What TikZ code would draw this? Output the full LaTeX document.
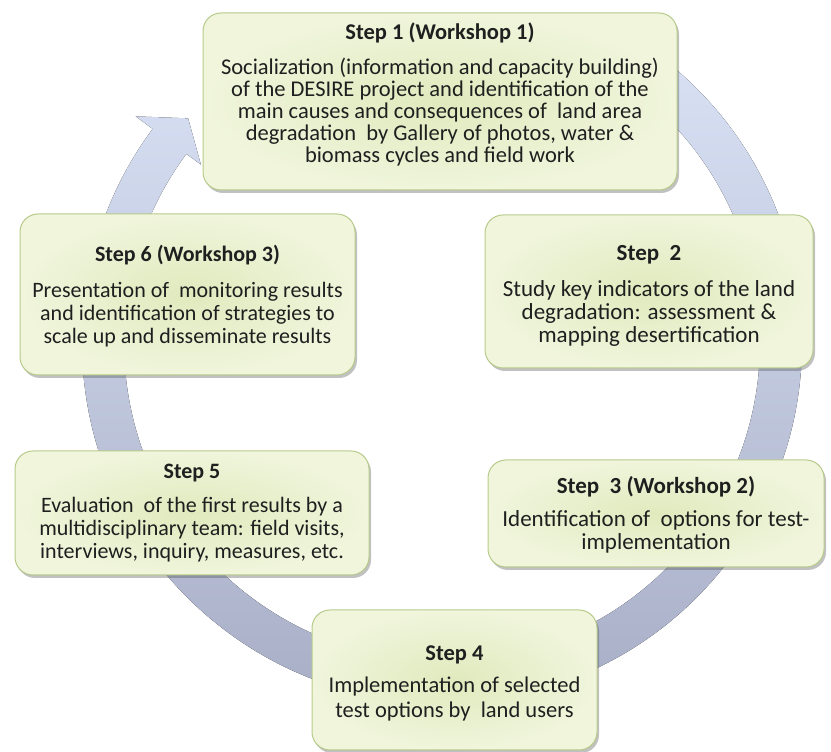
\documentclass[tikz,border=0pt]{standalone}
\usepackage{fontspec}
\setmainfont{Carlito}
\usetikzlibrary{positioning, shadows}

\definecolor{boxfill}{HTML}{E0EABD}
\definecolor{boxglow}{HTML}{F0F5DC}
\definecolor{boxedge}{HTML}{B7CA8A}
\definecolor{ringtop}{HTML}{D8E0F4}
\definecolor{ringbottom}{HTML}{A4ABC3}

\tikzset{
    stepbox/.style={draw=boxedge, line width=1pt, rounded corners=18pt,
        inner color=boxfill, outer color=boxglow,
        drop shadow={shadow xshift=2pt, shadow yshift=-3pt, opacity=0.35, fill=black!70}},
    steptext/.style={align=center, text=black!88, font=\fontsize{23}{23}\selectfont},
}

\begin{document}
\begin{tikzpicture}[x=1pt, y=1pt]
    \useasboundingbox (0,0) rectangle (831,752);
    % Cycle arrow
    \fill[shift={(442,409)}, top color=ringtop, bottom color=ringbottom]
        (52:360) arc (52:-216.5:360) -- (-216.5:381) -- (-221.5:339)
        -- (-216.5:300) -- (-216.5:318) arc (-216.5:52:318) -- cycle;
    % Step boxes
    \node[stepbox, minimum width=474pt, minimum height=177pt] (s1) at (440,650.5) {};
    \node[stepbox, minimum width=328pt, minimum height=153pt] (s2) at (649,460.5) {};
    \node[stepbox, minimum width=336pt, minimum height=107pt] (s3) at (656,238.5) {};
    \node[stepbox, minimum width=285pt, minimum height=140pt] (s4) at (454.5,72) {};
    \node[stepbox, minimum width=354pt, minimum height=124pt] (s5) at (192,239) {};
    \node[stepbox, minimum width=335pt, minimum height=161pt] (s6) at (187.5,457.5) {};
    % Texts
    \node[steptext, font=\fontsize{22.5}{22}\selectfont] (t1) at ([yshift=7pt]s1.center)
        {\textbf{Step 1 (Workshop 1)}\\[13pt]
         Socialization (information and capacity building)\\
         of the DESIRE project and identification of the\\
         main causes and consequences of\ \ land area\\
         degradation\ \ by Gallery of photos, water \&\\
         biomass cycles and field work};
    \node[steptext] (t2) at ([yshift=-4pt]s2.center)
        {\textbf{Step\ \ 2}\\[13pt]
         Study key indicators of the land\\
         degradation: assessment \&\\
         mapping desertification};
    \node[steptext] (t3) at ([yshift=-1pt]s3.center)
        {\textbf{Step\ \ 3 (Workshop 2)}\\[10pt]
         Identification of\ \ options for test-\\
         implementation};
    \node[steptext, font=\fontsize{22.5}{23}\selectfont] (t4) at ([yshift=-3pt]s4.center)
        {\textbf{Step 4}\\[9pt]
         Implementation of selected\\[2pt]
         test options by\ \ land users};
    \node[steptext, font=\fontsize{22}{23}\selectfont] (t5) at (s5.center)
        {\textbf{Step 5}\\[11pt]
         Evaluation\ \ of the first results by a\\
         multidisciplinary team: field visits,\\
         interviews, inquiry, measures, etc.};
    \node[steptext, font=\fontsize{22}{23}\selectfont] (t6) at ([yshift=-2pt]s6.center)
        {\textbf{Step 6 (Workshop 3)}\\[13pt]
         Presentation of\ \ monitoring results\\
         and identification of strategies to\\
         scale up and disseminate results};
\end{tikzpicture}
\end{document}
